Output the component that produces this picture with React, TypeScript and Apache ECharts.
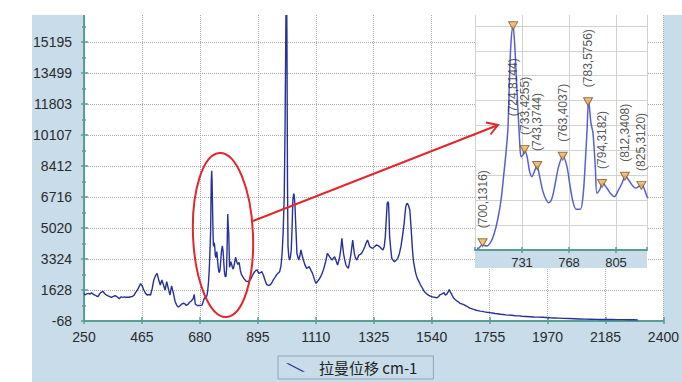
import React, { useEffect, useRef } from 'react';
import * as echarts from 'echarts';

// Raman shift (cm-1) and intensity of the spectrum
const mainShift = [
  250, 254, 260, 266, 272, 278, 284, 290, 296, 302, 308, 314, 320, 326, 333, 340, 346, 351, 357, 363,
  369, 375, 381, 387, 394, 400, 406, 412, 418, 424, 430, 436, 442, 448, 454, 460, 466, 472, 478, 484,
  490, 497, 503, 509, 515, 521, 527, 533, 539, 545, 551, 557, 563, 569, 575, 581, 588, 594, 600, 606,
  612, 618, 624, 630, 636, 642, 648, 655, 659, 663, 670, 679, 688,
  695.6, 696.8, 699.5, 703.4, 706.6, 709.2, 711.8, 714.5, 716.5, 718.6, 720.0, 721.2, 722.3, 723.9,
  725.2, 726.5, 727.8, 729.1, 730.2, 731.8, 733.1, 735.0, 737.0, 738.9, 740.7, 742.8, 744.9, 747.5,
  750.1, 752.0, 754.6, 757.2, 759.8, 763.3, 766.4, 768.5, 771.1, 773.7, 776.9, 779.0, 780.8, 782.2,
  783.4, 785.3, 786.9, 788.7, 790.0, 792.1, 794.5, 797.9, 800.5, 803.7, 807.0, 809.7, 812.3, 814.9,
  817.6, 820.7, 822.8, 825.5, 828.0, 829.9,
  834, 840, 846, 852, 858, 864, 870, 876, 882, 888, 893, 897, 903, 910, 916, 922, 928, 934, 940, 946,
  952, 958, 964, 970, 976, 981, 985, 989, 993, 996, 999, 1001, 1003, 1005, 1007, 1010, 1013, 1016, 1019, 1022,
  1025, 1028, 1030, 1033, 1035, 1038, 1040, 1044, 1047, 1051, 1055, 1059, 1064, 1070, 1076, 1081, 1086, 1092, 1098, 1104,
  1110, 1116, 1122, 1128, 1134, 1140, 1147, 1153, 1157, 1161, 1166, 1171, 1176, 1180, 1186, 1191, 1195, 1199, 1203, 1207,
  1210, 1213, 1217, 1222, 1226, 1231, 1236, 1241, 1244, 1247, 1250, 1253, 1257, 1262, 1266, 1270, 1275, 1280, 1286, 1292,
  1297, 1302, 1306, 1310, 1316, 1322, 1328, 1335, 1341, 1347, 1353, 1359, 1364, 1368, 1372, 1375, 1378, 1380, 1382, 1384,
  1388, 1392, 1397, 1402, 1408, 1414, 1420, 1426, 1432, 1438, 1441, 1444, 1447, 1450, 1454, 1459, 1462, 1465, 1468, 1472,
  1476, 1481, 1487, 1493, 1499, 1505, 1511, 1517, 1523, 1529, 1535, 1541, 1547, 1553, 1559, 1565, 1572, 1579, 1586, 1591,
  1596, 1601, 1605, 1609, 1614, 1620, 1626, 1633, 1639, 1645, 1651, 1657, 1663, 1669, 1675, 1681, 1687, 1693, 1699, 1705,
  1712, 1720, 1728, 1736, 1745, 1755, 1765, 1775, 1785, 1795, 1805, 1815, 1825, 1835, 1845, 1855, 1865, 1875, 1890, 1905,
  1920, 1935, 1950, 1965, 1980, 1995, 2010, 2030, 2050, 2070, 2090, 2110, 2130, 2150, 2170, 2190, 2210, 2230, 2250, 2270,
  2290, 2305,
];
const mainIntensity = [
  1450, 1354, 1420, 1447, 1400, 1480, 1400, 1354, 1300, 1261, 1420, 1500, 1560, 1440, 1354, 1300, 1260, 1228, 1270, 1310,
  1300, 1230, 1150, 1250, 1228, 1250, 1228, 1240, 1230, 1261, 1280, 1350, 1500, 1628, 1800, 1975, 1850, 1628, 1450, 1354,
  1380, 1354, 1700, 2175, 2400, 2541, 2200, 1902, 2175, 1900, 1628, 2084, 1700, 1354, 1847, 1500, 1000, 800, 700, 760,
  850, 900, 880, 780, 850, 960, 1030, 1150, 1380, 850, 780, 780, 800,
  1150, 1140, 1244, 1212, 1348, 1612, 2031, 2661, 3395, 4237, 4970, 6546, 7598, 8144,
  7598, 6546, 5497, 4552, 4025, 4080, 4215, 4025, 3553, 3395, 3553, 3733, 3395, 2923,
  2661, 2576, 2715, 3187, 3710, 4047, 3710, 3187, 2608, 2368, 2368, 2765, 3817, 4867,
  5790, 5078, 4762, 3710, 2872, 2977, 3187, 3030, 2872, 2765, 2977, 3187, 3418, 3292,
  3134, 3030, 3085, 3134, 2923, 2715,
  2480, 2330, 2200, 2100, 2090, 2150, 2260, 2450, 2600, 2700, 2720, 2560, 2560, 2630, 2420, 2150, 1920, 1880, 1900, 2000,
  2173, 2300, 2447, 2550, 2630, 2950, 3600, 4800, 6800, 10500, 16000, 19000, 15500, 7600, 4000, 3450, 3267, 3450, 3816, 5000,
  6550, 6900, 6824, 6200, 5457, 4400, 3632, 3400, 3267, 3500, 3816, 3550, 3267, 3000, 2811, 2850, 2903, 2700, 2538, 2250,
  1991, 2082, 2200, 2355, 2550, 2811, 3200, 3632, 3550, 3450, 3350, 3267, 3380, 3450, 3200, 2996, 3200, 3450, 3900, 4455,
  4000, 3632, 3300, 2996, 2900, 2811, 3200, 3632, 4000, 4363, 4000, 3632, 3400, 3267, 3400, 3541, 3580, 3632, 3800, 3997,
  4200, 4363, 4200, 3997, 3950, 3906, 4000, 4089, 4050, 3997, 3900, 3816, 4000, 4546, 5600, 6370, 6450, 6370, 5600, 4546,
  3900, 3359, 3250, 3176, 3250, 3359, 3600, 3997, 4600, 5275, 5800, 6187, 6330, 6370, 6250, 6004, 5400, 4728, 4000, 3267,
  2900, 2538, 2250, 2082, 1900, 1750, 1580, 1480, 1400, 1330, 1290, 1260, 1240, 1220, 1200, 1260, 1380, 1420, 1480, 1350,
  1400, 1520, 1650, 1530, 1400, 1220, 1120, 1040, 980, 900, 870, 840, 800, 740, 700, 640, 610, 580, 560, 520,
  500, 470, 460, 430, 410, 390, 370, 340, 330, 300, 290, 270, 255, 250, 230, 215, 210, 195, 180, 165,
  150, 145, 135, 125, 110, 100, 90, 75, 65, 55, 45, 35, 30, 20, 15, 10, 10, 5, 5, 0,
  0, -5,
];

// Main axis tick labels
const xTickLabels = [250, 465, 680, 895, 1110, 1325, 1540, 1755, 1970, 2185, 2400];
const yTickLabels = [-68, 1628, 3324, 5020, 6716, 8412, 10107, 11803, 13499, 15195];

// Inset (zoomed region) axis labels and labelled peaks
const insetTickLabels = [694, 731, 768, 805];
const insetRange = [694, 829.4];
const insetYRange = [1086, 8926];
const peakShift = [700, 724, 733, 743, 763, 783, 794, 812, 825];
const peakIntensity = [1316, 8144, 4255, 3744, 4037, 5756, 3182, 3408, 3120];

const SERIES_NAME = '拉曼位移 cm-1';
const TEAL = '#5a9e93';
const LABEL_FONT = 'Liberation Sans, Arial, sans-serif';

export default function App() {
  const ref = useRef<HTMLDivElement>(null);

  useEffect(() => {
    if (!ref.current) return;
    const chart = echarts.init(ref.current, null, { renderer: 'svg' });

    const xBase = xTickLabels[0];
    const xStep = xTickLabels[1] - xTickLabels[0];
    const xMax = xTickLabels[xTickLabels.length - 1] - xBase;
    const yBase = yTickLabels[0];
    const yStep = (yTickLabels[yTickLabels.length - 1] - yTickLabels[0]) / (yTickLabels.length - 1);
    const yMax = yStep * yTickLabels.length;

    const ixBase = insetTickLabels[0];
    const ixStep = insetTickLabels[1] - insetTickLabels[0];
    const ixMax = insetRange[1] - ixBase;
    const iyBase = insetYRange[0];
    const iyStep = 784;
    const iyMax = insetYRange[1] - iyBase;

    const mainData = mainShift.map((s, i) => [s - xBase, mainIntensity[i] - yBase]);
    const insetData: number[][] = [];
    mainShift.forEach((s, i) => {
      if (s >= insetRange[0] && s <= insetRange[1] + 1) insetData.push([s - ixBase, mainIntensity[i] - iyBase]);
    });
    const peakData = peakShift.map((s, i) => {
      const item: any = { value: [s - ixBase, peakIntensity[i] - iyBase] };
      if (peakIntensity[i] === Math.max(...peakIntensity)) {
        item.label = { position: 'bottom', distance: 28, align: 'right' };
      }
      return item;
    });

    const mainSplit = { show: true, lineStyle: { color: '#a9a9a9', type: 'dotted', width: 1 } };
    const insetSplit = { show: true, lineStyle: { color: '#d2d2d2', type: 'solid', width: 1 } };

    const option: any = {
      animation: false,
      backgroundColor: 'transparent',
      grid: [
        { left: 84, right: 8, top: 11, bottom: 61, show: true, backgroundColor: '#ffffff', borderWidth: 0, z: 0 },
        { left: 475, right: 35, top: 1, bottom: 132, show: true, backgroundColor: '#ffffff', borderWidth: 0, z: 3 },
      ],
      xAxis: [
        {
          type: 'value', gridIndex: 0, min: 0, max: xMax, interval: xStep, position: 'bottom',
          axisLine: { show: true, onZero: false, lineStyle: { color: TEAL, width: 2 } },
          axisTick: { show: true, length: 3, lineStyle: { color: TEAL, width: 1.5 } },
          axisLabel: {
            fontSize: 14, color: '#2b2b2b', fontFamily: LABEL_FONT, margin: 9,
            formatter: (v: number) => String(xTickLabels[Math.round(v / xStep)] ?? ''),
          },
          splitLine: mainSplit,
        },
        {
          type: 'value', gridIndex: 0, min: 0, max: xMax, interval: xStep, position: 'bottom',
          axisLine: { show: false, onZero: false },
          axisTick: { show: true, inside: true, length: 4, lineStyle: { color: TEAL, width: 1.5 } },
          axisLabel: { show: false },
          splitLine: { show: false },
        },
        {
          type: 'value', gridIndex: 1, min: 0, max: ixMax, interval: ixStep, position: 'bottom', z: 4,
          axisLine: { show: true, onZero: false, lineStyle: { color: TEAL, width: 2 } },
          axisTick: { show: true, length: 3, lineStyle: { color: TEAL, width: 1.5 } },
          axisLabel: {
            fontSize: 13, color: '#2b2b2b', fontFamily: LABEL_FONT, margin: 6,
            showMinLabel: false, showMaxLabel: false,
            formatter: (v: number) => {
              const i = Math.round(v / ixStep);
              return Math.abs(v - i * ixStep) < 0.01 && i < insetTickLabels.length ? String(insetTickLabels[i]) : '';
            },
          },
          splitLine: insetSplit,
        },
        {
          type: 'value', gridIndex: 1, min: 0, max: ixMax, interval: ixStep, position: 'bottom', z: 4,
          axisLine: { show: false, onZero: false },
          axisTick: { show: true, inside: true, length: 3, lineStyle: { color: TEAL, width: 1.5 } },
          axisLabel: { show: false },
          splitLine: { show: false },
        },
      ],
      yAxis: [
        {
          type: 'value', gridIndex: 0, min: 0, max: yMax, interval: yStep, position: 'left',
          axisLine: { show: true, onZero: false, lineStyle: { color: TEAL, width: 2 } },
          axisTick: { show: true, length: 3, lineStyle: { color: TEAL, width: 1.5 } },
          minorTick: { show: true, splitNumber: 2, length: 2, lineStyle: { color: TEAL, width: 1.5 } },
          axisLabel: {
            fontSize: 14, color: '#2b2b2b', fontFamily: LABEL_FONT, margin: 12, showMaxLabel: false,
            formatter: (v: number) => {
              const i = Math.round(v / yStep);
              return i < yTickLabels.length ? String(yTickLabels[i]) : '';
            },
          },
          splitLine: mainSplit,
        },
        {
          type: 'value', gridIndex: 0, min: 0, max: yMax, interval: yStep, position: 'left',
          axisLine: { show: false, onZero: false },
          axisTick: { show: true, inside: true, length: 4, lineStyle: { color: TEAL, width: 1.5 } },
          minorTick: { show: true, splitNumber: 2, length: 2, lineStyle: { color: TEAL, width: 1.5 } },
          axisLabel: { show: false },
          splitLine: { show: false },
        },
        {
          type: 'value', gridIndex: 1, min: 0, max: iyMax, interval: iyStep, position: 'left', z: 4,
          axisLine: { show: false, onZero: false },
          axisTick: { show: false },
          axisLabel: { show: false },
          splitLine: insetSplit,
        },
      ],
      legend: {
        data: [{ name: SERIES_NAME, icon: 'path://M0,0L3,0L22,10L19,10Z' }],
        left: 278, top: 356,
        itemWidth: 19, itemHeight: 9,
        padding: [4, 16, 4, 8],
        borderColor: '#8ea6bd', borderWidth: 1,
        textStyle: { fontFamily: 'Noto Sans CJK SC', fontSize: 15, color: '#222', padding: [0, 0, 0, 9] },
      },
      series: [
        {
          name: SERIES_NAME, type: 'line', xAxisIndex: 0, yAxisIndex: 0, data: mainData,
          showSymbol: false, symbol: 'none', z: 2,
          lineStyle: { color: '#26319a', width: 1.4 }, itemStyle: { color: '#26319a' },
        },
        {
          name: 'inset', type: 'line', xAxisIndex: 2, yAxisIndex: 2, data: insetData,
          showSymbol: false, symbol: 'none', smooth: 0.3, z: 5,
          lineStyle: { color: '#5561d2', width: 1.5 },
        },
        {
          name: 'peaks', type: 'scatter', xAxisIndex: 2, yAxisIndex: 2, data: peakData, z: 6,
          symbol: 'path://M0,0L10,0L5,9Z', symbolSize: [9, 8],
          itemStyle: { color: '#efb25a', borderColor: '#7d5526', borderWidth: 1 },
          label: {
            show: true, position: 'top', distance: 10, rotate: 90, align: 'left', verticalAlign: 'middle',
            fontSize: 12, color: '#2a2a2a', fontFamily: LABEL_FONT,
            formatter: (p: any) => `(${peakShift[p.dataIndex]},${peakIntensity[p.dataIndex]})`,
          },
        },
      ],
      graphic: [
        { type: 'rect', silent: true, z: 3, shape: { x: 475, y: 250, width: 172, height: 18 }, style: { fill: '#c8dcea' } },
        {
          type: 'ellipse', silent: true, z: 50, x: 223, y: 235, rotation: 0.04,
          shape: { cx: 0, cy: 0, rx: 30, ry: 82 },
          style: { fill: 'none', stroke: '#e3262b', lineWidth: 2 },
        },
        {
          type: 'line', silent: true, z: 50,
          shape: { x1: 253, y1: 221, x2: 497, y2: 125.5 },
          style: { stroke: '#e3262b', lineWidth: 2 },
        },
        {
          type: 'polyline', silent: true, z: 50,
          shape: { points: [[486, 122.5], [498, 125], [490.5, 134.5]] },
          style: { stroke: '#e3262b', lineWidth: 2, fill: 'none' },
        },
        { type: 'rect', silent: true, z: 100, shape: { x: 0, y: 0, width: 682, height: 15 }, style: { fill: '#ffffff' } },
      ],
    };

    chart.setOption(option);
    return () => chart.dispose();
  }, []);

  return (
    <div style={{ position: 'fixed', left: 0, top: 0, width: 682, height: 382, background: '#ffffff', overflow: 'hidden' }}>
      <div style={{ position: 'absolute', left: 32, top: 15, width: 650, height: 367, background: '#c8dcea' }} />
      <div ref={ref} style={{ position: 'absolute', left: 0, top: 0, width: 682, height: 382 }} />
    </div>
  );
}
